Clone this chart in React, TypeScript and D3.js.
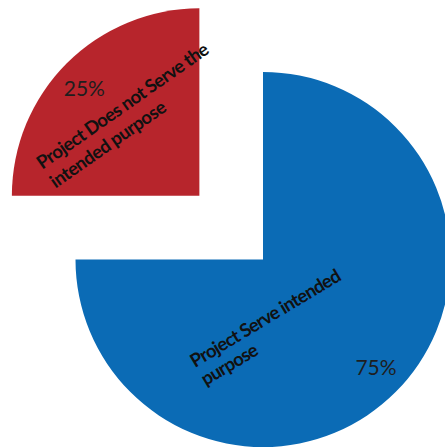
import React from "react";
import * as d3 from "d3";

const categories = ["Project Serve intended purpose", "Project Does not Serve the intended purpose"];
const values = [75, 25];
const percentLabels = ["75%", "25%"];
const labelLines = [["Project Serve intended", "purpose"], ["Project Does not Serve the", "intended purpose"]];
const labelLineLengths = [[172, 63], [205, 137]];

const W = 445;
const H = 448;
const cx = 263;
const cy = 259.5;
const R = 187.5;
const explode = [0, 90];
const colors = ["#0B6BB5", "#B7252C"];
// text placement relative to each slice's own center
const labelOffsets = [
  { x: -68, y: 108.5, angle: -31, lh: 21 },
  { x: -157, y: -26, angle: -35, lh: 23 },
];
const pctOffsets = [
  { x: 113, y: 115.5 },
  { x: -115, y: -100 },
];

export default function App() {
  const pie = d3.pie<number>().sort(null).startAngle(0).endAngle(2 * Math.PI);
  const arcs = pie(values);
  const arcGen = d3.arc<d3.PieArcDatum<number>>().innerRadius(0).outerRadius(R);
  return (
    <svg width={W} height={H} style={{ position: "absolute", left: 0, top: 0, display: "block" }}>
      <rect width={W} height={H} fill="#ffffff" />
      {arcs.map((a, i) => {
        const mid = (a.startAngle + a.endAngle) / 2;
        const dx = Math.sin(mid) * explode[i];
        const dy = -Math.cos(mid) * explode[i];
        const ox = cx + dx;
        const oy = cy + dy;
        const lo = labelOffsets[i];
        const po = pctOffsets[i];
        return (
          <g key={categories[i]}>
            <path d={arcGen(a) || ""} transform={`translate(${ox},${oy})`} fill={colors[i]} />
            <text
              transform={`translate(${ox + lo.x},${oy + lo.y}) rotate(${lo.angle})`}
              fontFamily="Lato, 'Open Sans', sans-serif"
              fontWeight={700}
              fontSize={18.5}
              fill="#111"
            >
              {labelLines[i].map((l, j) => (
                <tspan key={j} x={0} y={j * lo.lh} textLength={labelLineLengths[i][j]} lengthAdjust="spacing">{l}</tspan>
              ))}
            </text>
            <text
              x={ox + po.x}
              y={oy + po.y}
              textAnchor="middle"
              fontFamily="Lato, 'Open Sans', sans-serif"
              fontSize={21}
              fill="#1e1e1e"
            >
              {percentLabels[i]}
            </text>
          </g>
        );
      })}
    </svg>
  );
}
